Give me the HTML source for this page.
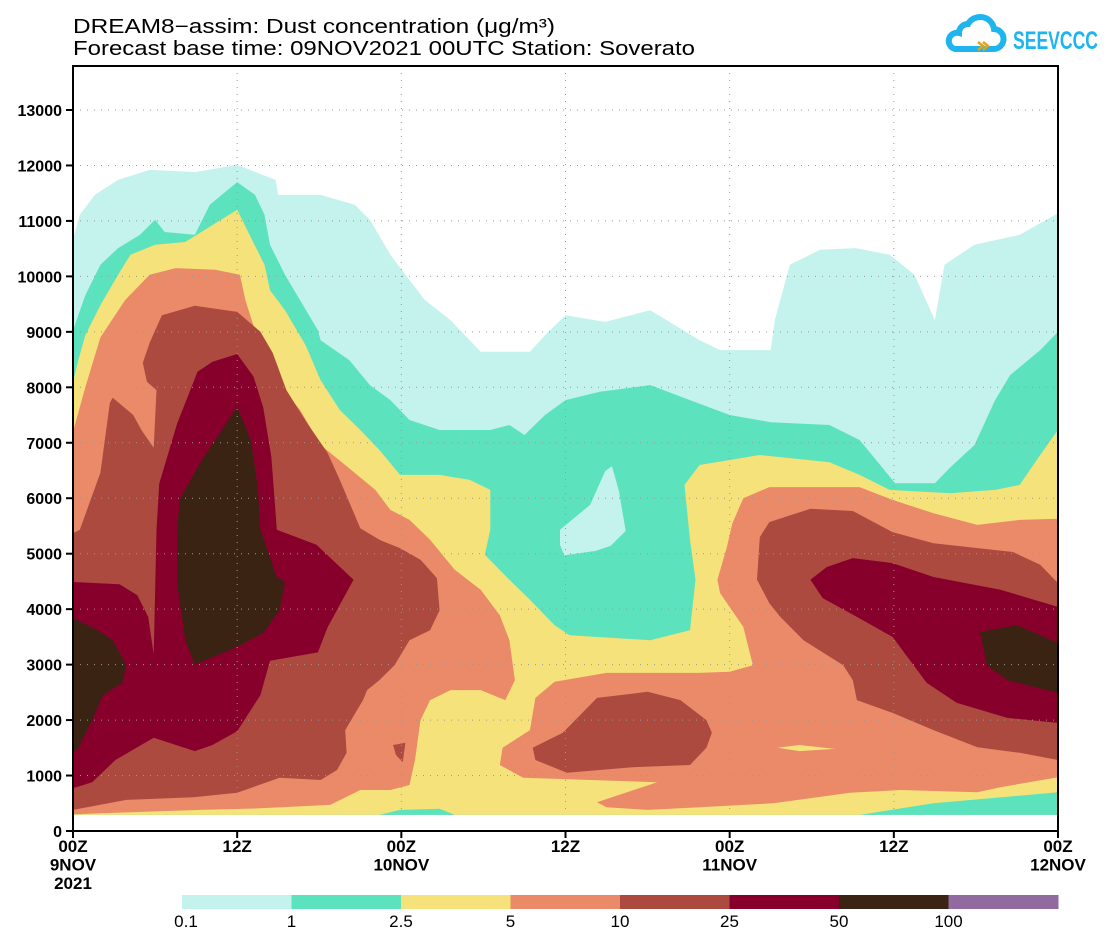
<!DOCTYPE html>
<html><head><meta charset="utf-8"><style>
html,body{margin:0;padding:0;background:#fff}
svg{display:block}
text{font-family:"Liberation Sans","DejaVu Sans",sans-serif;fill:#000}
</style></head><body>
<svg id="chart" width="1112" height="943" viewBox="0 0 1112 943" xmlns="http://www.w3.org/2000/svg">
<defs><clipPath id="plotclip"><rect x="73" y="66" width="985" height="749"/></clipPath></defs>
<text x="73" y="33" font-size="20" textLength="482" lengthAdjust="spacingAndGlyphs">DREAM8−assim: Dust concentration (μg/m³)</text>
<text x="73" y="55" font-size="20" textLength="622" lengthAdjust="spacingAndGlyphs">Forecast base time: 09NOV2021 00UTC  Station: Soverato</text>
<g>
<path d="M955 49 h38 a10 10 0 0 0 1 -20 a14 14 0 0 0 -26 -5 a9 9 0 0 0 -9 9 a8 8 0 0 0 -4 16 z" fill="none" stroke="#1eb4ee" stroke-width="6"/>
<path d="M978 42 l5 4 l-5 4 M983 42 l5 4 l-5 4" fill="none" stroke="#e3a21a" stroke-width="2.5"/>
<text x="1013" y="49" font-size="25" font-weight="bold" style="fill:#1eb4ee" textLength="85" lengthAdjust="spacingAndGlyphs">SEEVCCC</text>
</g>
<g id="plot" clip-path="url(#plotclip)"></g>
<g id="grid"></g>
<rect x="73" y="815" width="985" height="16" fill="#fff"/>
<rect x="73" y="66" width="985" height="765" fill="none" stroke="#000" stroke-width="2"/>
<g id="axes"></g>
<g id="cbar"></g>
</svg>
<script>
// ---- data (hours since 09NOV 00Z, heights in km) ----
const levels = ["0.1","1","2.5","5","10","25","50","100"];
const levelColors = ["#c4f2ec","#5ce3bd","#f6e27a","#ea8a68","#ac4a40","#87002b","#3a2313","#916aa0"];
const xTickHours = [0,12,24,36,48,60,72];
const xTickLabels = [["00Z","9NOV","2021"],["12Z"],["00Z","10NOV"],["12Z"],["00Z","11NOV"],["12Z"],["00Z","12NOV"]];
const yTicks = [0,1000,2000,3000,4000,5000,6000,7000,8000,9000,10000,11000,12000,13000];
const floorKm = 0.29;

const cyanTop = [[0,10.66],[0.5,11.11],[1.6,11.47],[3.3,11.74],[5.6,11.92],[8.9,11.88],[12,12.01],[14.8,11.74],[15,11.47],[18.1,11.47],[20.6,11.29],[21.7,11.02],[23.2,10.39],[24.3,10.03],[25.7,9.58],[27.6,9.21],[29,8.85],[29.8,8.64],[33.4,8.64],[34.5,8.94],[36,9.3],[38.9,9.18],[42.2,9.39],[45.8,8.85],[47.3,8.67],[51,8.67],[51.3,9.21],[52.4,10.21],[54.6,10.48],[57.2,10.51],[59.7,10.39],[61.5,10.03],[63,9.21],[63.7,10.21],[65.9,10.57],[69.2,10.75],[72,11.14]];
const tealTop = [[0,9.03],[0.9,9.66],[2,10.21],[3.3,10.51],[4.9,10.75],[6,11.02],[6.7,10.8],[8.9,10.75],[10,11.29],[12,11.7],[13.3,11.47],[14,11.11],[14.4,10.57],[15.5,10.03],[16.6,9.57],[17.9,9.03],[18.1,8.85],[20.2,8.49],[21.7,8.04],[23.2,7.77],[24.6,7.41],[26.8,7.23],[30.5,7.23],[31.9,7.32],[33,7.14],[34.5,7.5],[36,7.77],[38.5,7.92],[42.2,8.04],[45.1,7.77],[48,7.5],[51,7.37],[55.3,7.32],[57.5,7.05],[59,6.6],[60.1,6.27],[63,6.27],[64.1,6.55],[65.9,6.96],[67.4,7.77],[68.5,8.22],[70.7,8.67],[72,9.0]];
const cyanHole = [[35.6,5.43],[37.8,5.88],[38.9,6.49],[39.4,6.58],[39.9,6.13],[40.4,5.41],[39.3,5.14],[38.2,5.05],[35.9,4.97],[35.6,5.16]];
const yellowTop = [[0,8.1],[0.4,8.5],[0.9,8.94],[2,9.48],[3.3,10.03],[4.2,10.39],[6,10.57],[8.2,10.62],[12,11.2],[12.9,10.75],[14,10.21],[14.4,9.75],[15.5,9.39],[17,8.76],[18.1,8.13],[19.5,7.59],[21,7.23],[22.4,6.87],[23.9,6.42],[26.8,6.42],[29,6.33],[30.5,6.15],[30.5,5.43],[30.1,4.98],[31.9,4.53],[33.4,4.17],[35.2,3.71],[36.3,3.53],[42.2,3.44],[45.1,3.62],[45.5,4.53],[45.1,5.25],[44.7,6.24],[45.8,6.6],[50.2,6.78],[55.3,6.65],[57.5,6.42],[59.7,6.15],[64.1,6.09],[67.4,6.15],[69.2,6.24],[70.7,6.78],[72,7.23]];
const tealFloorA = [[22.4,0.29],[23.9,0.38],[26.8,0.4],[27.9,0.29]];
const tealFloorB = [[57.5,0.29],[62.9,0.5],[72,0.7],[72,0.29]];
const orangeLeft = [[0,7.2],[0.9,8.0],[2,8.9],[3.8,9.57],[5.6,10.03],[7.5,10.15],[10.4,10.12],[12.2,10.03],[12.6,9.57],[13.3,9.03],[14,8.49],[15.1,8.04],[16.6,7.59],[18.1,6.96],[19.9,6.6],[22.1,6.15],[23.2,5.79],[24.6,5.61],[26.1,5.25],[27.9,4.71],[29.8,4.35],[31.2,3.89],[31.9,3.44],[32.3,2.72],[31.6,2.36],[29.8,2.54],[27.6,2.54],[26.1,2.36],[25.4,2.0],[25,1.28],[24.6,0.83],[23.2,0.74],[21,0.74],[18.8,0.47],[13.7,0.41],[9.3,0.38],[2,0.32],[0,0.3]];
const orangeRight = [[31.2,1.19],[31.4,1.5],[33.4,1.82],[33.8,2.4],[35.2,2.69],[39,2.85],[45.8,2.85],[48,2.87],[49.7,2.99],[49,3.68],[47.3,4.29],[47.1,4.53],[47.8,5.12],[48.2,5.55],[49,6.0],[50.9,6.2],[57.5,6.2],[59.9,5.97],[62.9,5.73],[66.1,5.52],[69.2,5.61],[72,5.63],[72,0.97],[67.8,0.79],[66.1,0.7],[60.5,0.74],[56.8,0.69],[51.2,0.5],[45.8,0.43],[42,0.38],[39,0.43],[38.3,0.52],[42.7,0.88],[32.9,0.96]];
const yellowWedge = [[51.5,1.5],[53.1,1.55],[55.7,1.48],[53.1,1.44]];
const brownLeft = [[0,5.37],[0.5,5.43],[2,6.46],[2.7,7.72],[2.9,7.81],[4.4,7.5],[5,7.23],[5.9,6.91],[6.1,7.95],[5.4,8.1],[5.1,8.44],[5.6,8.8],[6.5,9.3],[8.9,9.47],[12,9.36],[13.7,9.0],[14.6,8.62],[15.6,7.95],[17.1,7.36],[18.6,6.82],[19.5,6.33],[21,5.46],[22.4,5.25],[23.9,5.1],[25.4,4.89],[26.6,4.56],[26.8,3.98],[26.1,3.62],[24.6,3.44],[23.5,2.99],[22.4,2.72],[21.5,2.54],[21.2,2.36],[19.9,1.82],[20,1.41],[19.3,1.1],[18.1,0.92],[15.1,0.96],[12,0.69],[8.8,0.61],[3.9,0.56],[0,0.38]];
const brownMid = [[33.6,1.5],[35.8,1.77],[38.3,2.4],[42,2.51],[44.4,2.36],[46.3,2.0],[46.7,1.77],[46.3,1.5],[45.1,1.19],[40.9,1.15],[36.1,1.05],[33.8,1.28]];
const brownRight = [[50,4.53],[50.2,5.3],[50.9,5.57],[53.9,5.81],[57,5.77],[59.9,5.39],[62.9,5.19],[68.7,5.03],[70.7,4.8],[72,4.47],[72,1.28],[69.2,1.41],[66.1,1.51],[62.9,1.82],[59.9,2.13],[57.3,2.36],[57,2.72],[56.3,2.99],[53.4,3.44],[51.7,3.86],[50.9,4.11]];
const brownTiny = [[23.4,1.55],[24.3,1.59],[24.1,1.24],[23.6,1.37]];
const redLeft = [[0,4.49],[3.4,4.45],[4.7,4.25],[5.5,3.86],[5.9,3.19],[6.1,5.43],[6.3,6.26],[7.6,7.34],[9.1,8.28],[10.2,8.46],[12,8.6],[13.2,8.19],[13.9,7.64],[14.5,6.74],[14.9,5.43],[17.8,5.16],[20.5,4.53],[18.6,3.67],[17.9,3.22],[14.4,3.07],[13.7,2.45],[12,1.8],[10.2,1.55],[8.9,1.44],[5.9,1.68],[3.1,1.28],[1.4,0.88],[0,0.77]];
const redRight = [[53.9,4.53],[55.1,4.76],[57,4.92],[59.9,4.83],[62.9,4.58],[67.8,4.35],[72,4.04],[72,1.95],[68.3,2.04],[64.6,2.31],[62.4,2.67],[59.9,3.5],[57.3,3.86],[54.8,4.2]];
const blackTop = [[7.6,5.37],[7.8,5.97],[9.3,6.64],[12,7.65],[13,7.05],[13.5,6.2],[13.7,5.43],[14.9,4.58],[15.5,4.49],[15.1,3.98],[13.9,3.57],[12,3.32],[8.9,3.0],[8.2,3.45],[7.6,4.49]];
const blackEdge = [[0,3.84],[1.8,3.62],[2.9,3.44],[3.9,2.99],[3.6,2.67],[2.2,2.45],[1.4,2.0],[0.4,1.51],[0,1.41]];
const blackRight = [[66.3,3.59],[69,3.71],[72,3.39],[72,2.49],[70.2,2.6],[68.3,2.72],[66.8,2.99]];

// ---- axis functions ----
const X0=73, X1=1058, Y0=831, YTOP=110;
function xs(h){ return X0 + h*(X1-X0)/72; }
function ys(m){ return Y0 - m*(Y0-YTOP)/13000; }
function pt(p){ return xs(p[0]).toFixed(1)+","+ys(p[1]*1000).toFixed(1); }
const NS="http://www.w3.org/2000/svg";
const plot=document.getElementById('plot');
function poly(points,color,name){
  const el=document.createElementNS(NS,'polygon');
  el.setAttribute('points',points.map(pt).join(' '));
  el.setAttribute('fill',color);
  
  
  plot.appendChild(el);
}
function withFloor(top){ return top.concat([[72,floorKm],[0,floorKm]]); }

poly(withFloor(cyanTop),levelColors[0],'contour-0.1');
poly(withFloor(tealTop),levelColors[1],'contour-1');
poly(cyanHole,levelColors[0],'contour-0.1-hole');
poly(withFloor(yellowTop),levelColors[2],'contour-2.5');
poly(tealFloorA,levelColors[1],'contour-1-floor-a');
poly(tealFloorB,levelColors[1],'contour-1-floor-b');
poly(orangeLeft,levelColors[3],'contour-5-left');
poly(orangeRight,levelColors[3],'contour-5-right');
poly(yellowWedge,levelColors[2],'contour-2.5-wedge');
poly(brownLeft,levelColors[4],'contour-10-left');
poly(brownMid,levelColors[4],'contour-10-mid');
poly(brownRight,levelColors[4],'contour-10-right');
poly(brownTiny,levelColors[4],'contour-10-small');
poly(redLeft,levelColors[5],'contour-25-left');
poly(redRight,levelColors[5],'contour-25-right');
poly(blackTop,levelColors[6],'contour-50-top');
poly(blackEdge,levelColors[6],'contour-50-edge');
poly(blackRight,levelColors[6],'contour-50-right');

// grid
const grid=document.getElementById('grid');
yTicks.forEach(v=>{
  if(v===0) return;
  const l=document.createElementNS(NS,'line');
  l.setAttribute('x1',X0);l.setAttribute('x2',X1);l.setAttribute('y1',ys(v));l.setAttribute('y2',ys(v));
  l.setAttribute('stroke','#999');l.setAttribute('stroke-width','1');l.setAttribute('stroke-dasharray','1 6');
  
  
  grid.appendChild(l);
});
xTickHours.forEach(h=>{
  if(h===0||h===72) return;
  const l=document.createElementNS(NS,'line');
  l.setAttribute('x1',xs(h));l.setAttribute('x2',xs(h));l.setAttribute('y1',66);l.setAttribute('y2',Y0);
  l.setAttribute('stroke','#999');l.setAttribute('stroke-width','1');l.setAttribute('stroke-dasharray','1 6');
  
  
  grid.appendChild(l);
});

// axes labels
const axes=document.getElementById('axes');
yTicks.forEach(v=>{
  const t=document.createElementNS(NS,'text');
  t.setAttribute('x',62);t.setAttribute('y',ys(v)+6);t.setAttribute('text-anchor','end');t.setAttribute('font-size','16');t.setAttribute('font-weight','bold');
  t.textContent=v;
  
  
  axes.appendChild(t);
  const k=document.createElementNS(NS,'line');
  k.setAttribute('x1',66);k.setAttribute('x2',73);k.setAttribute('y1',ys(v));k.setAttribute('y2',ys(v));
  k.setAttribute('stroke','#000');k.setAttribute('stroke-width','2');
  
  
  axes.appendChild(k);
});
xTickHours.forEach((h,i)=>{
  const k=document.createElementNS(NS,'line');
  k.setAttribute('x1',xs(h));k.setAttribute('x2',xs(h));k.setAttribute('y1',Y0);k.setAttribute('y2',Y0+7);
  k.setAttribute('stroke','#000');k.setAttribute('stroke-width','2');
  
  
  axes.appendChild(k);
  xTickLabels[i].forEach((s,j)=>{
    const t=document.createElementNS(NS,'text');
    t.setAttribute('x',xs(h));t.setAttribute('y',852+j*18.5);t.setAttribute('text-anchor','middle');t.setAttribute('font-size','17');t.setAttribute('font-weight','bold');
    t.textContent=s;
    
    
    axes.appendChild(t);
  });
});

// colorbar
const cbar=document.getElementById('cbar');
const CB0=182, CB1=1058, segW=(CB1-CB0)/levels.length;
levels.forEach((lv,i)=>{
  const r=document.createElementNS(NS,'rect');
  r.setAttribute('x',CB0+i*segW);r.setAttribute('y',895);r.setAttribute('width',segW+0.5);r.setAttribute('height',14);
  r.setAttribute('fill',levelColors[i]);
  
  
  cbar.appendChild(r);
  const t=document.createElementNS(NS,'text');
  t.setAttribute('x',CB0+i*segW+(i===0?4:0));t.setAttribute('y',927);t.setAttribute('text-anchor','middle');t.setAttribute('font-size','17');
  t.textContent=lv;
  
  
  cbar.appendChild(t);
});
</script>
</body></html>
